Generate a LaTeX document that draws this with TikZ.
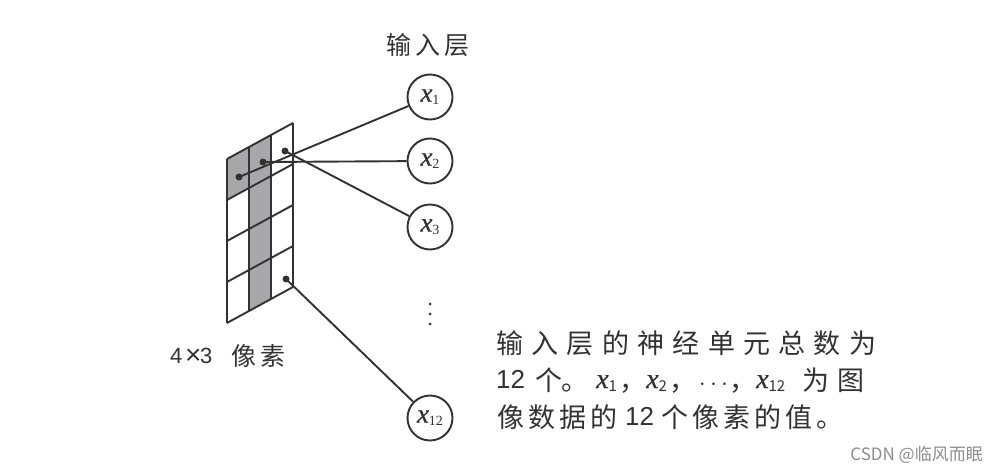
\documentclass[tikz,border=0pt]{standalone}
\usepackage{fontspec}
\setmainfont{Liberation Serif}
\newfontfamily\cjk{Noto Sans CJK SC}
\newfontfamily\lsans{Liberation Sans}
\newfontfamily\xit{Liberation Serif}[FakeBold=0.6]
\definecolor{ink}{RGB}{50,50,50}
\definecolor{cellgray}{RGB}{168,168,170}
\definecolor{wm}{RGB}{140,140,140}
\newcommand{\xsub}[3]{{\xit\fontsize{#1}{#1}\selectfont\itshape x}\raisebox{-0.3em}{\fontsize{#2}{#2}\selectfont #3}}
\begin{document}
\begin{tikzpicture}[x=1pt,y=-1pt,
  ln/.style={draw=ink,line width=1.9pt},
  neuron/.style={circle,draw=ink,line width=1.9pt,minimum size=45pt,inner sep=0pt,text=ink},
  dot/.style={circle,fill=ink,inner sep=0pt,minimum size=7pt},
  vdot/.style={circle,fill=ink,inner sep=0pt,minimum size=3pt},
  txt/.style={anchor=base west,inner sep=0pt,text=ink},
  big/.style={font=\cjk\fontsize{27}{27}\selectfont},
]
\useasboundingbox (0,0) rectangle (998,471);
% grid corners
\foreach \i in {0,...,3}{
  \foreach \j in {0,...,4}{
    \coordinate (g\i\j) at ({227+22*\i},{159-12*\i+41*\j});
  }
}
\fill[cellgray] (g00) -- (g10) -- (g11) -- (g01) -- cycle;
\fill[cellgray] (g10) -- (g20) -- (g24) -- (g14) -- cycle;
\foreach \i in {0,...,3}{\draw[ln] (g\i0) -- (g\i4);}
\foreach \j in {0,...,4}{\draw[ln] (g0\j) -- (g3\j);}
% pixel dots
\node[dot] (p1) at (239,177) {};
\node[dot] (p2) at (263,162) {};
\node[dot] (p3) at (285,151) {};
\node[dot] (p12) at (286,279) {};
% neurons
\node[neuron] (x1) at (430,97) {\xsub{27}{14}{1}};
\node[neuron] (x2) at (430,161) {\xsub{27}{14}{2}};
\node[neuron] (x3) at (430,227) {\xsub{27}{14}{3}};
\node[neuron] (x12) at (430,418) {\xsub{27}{14}{12}};
\node[vdot] (v1) at (430,304) {};
\node[vdot] (v2) at (430,314) {};
\node[vdot] (v3) at (430,324) {};
% connectors
\draw[ln] (p1.center) -- (x1);
\draw[ln] (p2.center) -- (x2);
\draw[ln] (p3.center) -- (x3);
\draw[ln] (p12.center) -- (x12);
% title
\foreach \c [count=\k from 0] in {输,入,层}{
  \node[txt,font=\cjk\fontsize{25}{25}\selectfont] (t\k) at ({386+29*\k},54) {\c};
}
% grid label
\node[txt,font=\lsans\fontsize{22}{22}\selectfont] (g4) at (170,363) {4};
\node[txt,font=\lsans\fontsize{28}{28}\selectfont] (gx) at (185,364) {×};
\node[txt,font=\lsans\fontsize{22}{22}\selectfont] (g3) at (200,363) {3};
\node[txt,font=\cjk\fontsize{25}{25}\selectfont] (gp) at (231,365) {像};
\node[txt,font=\cjk\fontsize{25}{25}\selectfont] (gs) at (260,365) {素};
% description line 1
\foreach \c [count=\k from 0] in {输,入,层,的,神,经,单,元,总,数,为}{
  \node[txt,big] (a\k) at ({496+35.3*\k},353) {\c};
}
% line 2
\node[txt,font=\lsans\fontsize{26}{26}\selectfont] (b1) at (496,388) {12};
\node[txt,big] (b2) at (535,390) {个};
\node[txt,big] (b3) at (561,390) {。};
\node[txt] (b4) at (596,388) {\xsub{28}{15}{\cjk 1}};
\node[txt,big] (b5) at (619,390) {，};
\node[txt] (b6) at (646,388) {\xsub{28}{15}{\cjk 2}};
\node[txt,big] (b7) at (669,390) {，};
\node[inner sep=0pt,text=ink,font=\fontsize{24}{24}\selectfont] (b8) at (713.5,385) {$\cdots$};
\node[txt,big] (b9) at (729,390) {，};
\node[txt] (b10) at (756,388) {\xsub{28}{15}{\cjk 12}};
\node[txt,big] (b11) at (802,390) {为};
\node[txt,big] (b12) at (837,390) {图};
% line 3
\foreach \c [count=\k from 0] in {像,数,据,的}{
  \node[txt,big] (c\k) at ({497+31*\k},427) {\c};
}
\node[txt,font=\lsans\fontsize{26}{26}\selectfont] (c12) at (625,425) {12};
\foreach \c [count=\k from 0] in {个,像,素,的,值,。}{
  \node[txt,big] (d\k) at ({661+31*\k},427) {\c};
}
% watermark
\node[anchor=east,inner sep=0pt,text=wm,font=\cjk\fontsize{17}{17}\selectfont] (wmk) at (983,455) {CSDN @临风而眠};
\end{tikzpicture}
\end{document}
